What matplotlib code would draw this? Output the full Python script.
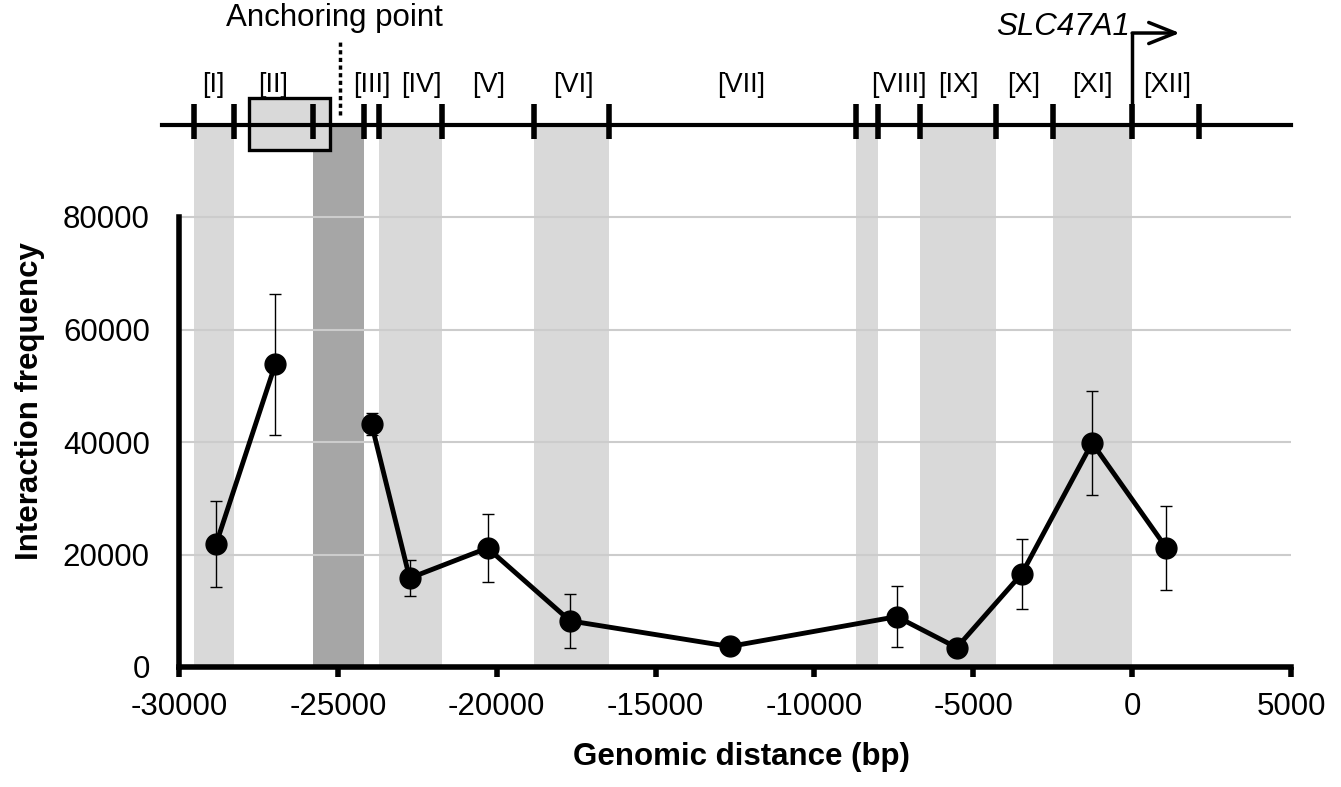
import matplotlib.pyplot as plt
from matplotlib.patches import Rectangle

plt.rcParams['font.family'] = ['Liberation Sans', 'DejaVu Sans']
plt.rcParams['axes.unicode_minus'] = False

# fragments and 3C interaction frequency
fragments = ['[I]', '[II]', '[III]', '[IV]', '[V]', '[VI]', '[VII]',
             '[VIII]', '[IX]', '[X]', '[XI]', '[XII]']
fragment_label_x = [-28930, -27040, -23940, -22370, -20250, -17600, -12300,
                    -7350, -5460, -3410, -1260, 1100]
distance = [-28830, -26970, -23940, -22740, -20290, -17690, -12670,
            -7410, -5520, -3470, -1260, 1080]
frequency = [21900, 53800, 43200, 15800, 21150, 8200, 3650,
             8950, 3450, 16600, 39850, 21150]
error = [7700, 12500, 1900, 3200, 6000, 4850, 800,
         5400, 800, 6200, 9200, 7500]
# the line is broken across the anchor fragment
upstream = 2

# restriction sites on the map and shaded fragments
sites = [-29520, -28270, -25770, -24170, -23700, -21730, -18840, -16460,
         -8680, -8010, -6680, -4300, -2500, 0, 2100]
light_bands = [(-29520, -28270), (-23700, -21730), (-18840, -16460),
               (-8680, -8010), (-6680, -4300), (-2500, 0)]
dark_band = (-25770, -24170)
anchor_box = (-27790, -25240)
anchor_x = -24920
tss = 0

fig = plt.figure(figsize=(13.41, 7.87), dpi=100)
ax = fig.add_axes([179 / 1341, 120 / 787, 1112 / 1341, 542 / 787])
ax.set_xlim(-30000, 5000)
ax.set_ylim(0, 80000 * 542 / 450)

for a, b in light_bands:
    ax.axvspan(a, b, color='#d9d9d9', lw=0, zorder=0)
ax.axvspan(*dark_band, color='#a6a6a6', lw=0, zorder=0)

ax.set_yticks(range(0, 80001, 20000))
ax.set_xticks(range(-30000, 5001, 5000))
ax.yaxis.grid(True, color='#cccccc', lw=1.5)
ax.tick_params(axis='y', length=0, labelsize=22.5, pad=21)
ax.tick_params(axis='x', direction='out', length=7, width=4, labelsize=22.5, pad=11)

for s in ['top', 'right']:
    ax.spines[s].set_visible(False)
ax.spines['left'].set_bounds(0, 80000)
ax.spines['left'].set_linewidth(4)
ax.spines['bottom'].set_linewidth(4)

ax.errorbar(distance, frequency, yerr=error, ls='none', marker='o', ms=15,
            color='black', ecolor='black', elinewidth=1,
            capsize=4.5, capthick=1, zorder=3)
ax.plot(distance[:upstream], frequency[:upstream], color='black', lw=3.5, zorder=3)
ax.plot(distance[upstream:], frequency[upstream:], color='black', lw=3.5, zorder=3)

# restriction map on top
trans = ax.get_xaxis_transform()
ax.plot([-30550, 5000], [1, 1], transform=trans, color='black', lw=3,
        clip_on=False, zorder=5)
ax.vlines(sites, 0.9736, 1.0382, transform=trans, color='black', lw=4,
          clip_on=False, zorder=6)
ax.add_patch(Rectangle((anchor_box[0], 0.9539), anchor_box[1] - anchor_box[0], 0.0965,
                       transform=trans, facecolor='#d9d9d9', edgecolor='black',
                       lw=2.4, clip_on=False, zorder=4))
for x, t in zip(fragment_label_x, fragments):
    ax.text(x, 1.0738, t, transform=trans, ha='center', va='center',
            fontsize=19.5)

ax.plot([anchor_x, anchor_x], [1.0185, 1.1587], transform=trans, color='black',
        lw=2.5, ls=(0, (1.2, 1)), clip_on=False)
ax.text(-25110, 1.1974, 'Anchoring point', transform=trans, ha='center',
        va='center', fontsize=22.5)

ax.plot([tss, tss], [1, 1.1697], transform=trans, color='black', lw=2.5,
        clip_on=False, solid_capstyle='butt')
ax.annotate('', xy=(1500, 1.1697), xytext=(tss, 1.1697), xycoords=trans,
            textcoords=trans, annotation_clip=False,
            arrowprops=dict(arrowstyle='->,head_length=0.5,head_width=0.2',
                            lw=2.5, mutation_scale=38, shrinkA=0, shrinkB=0,
                            color='black'))
ax.text(-2180, 1.1800, 'SLC47A1', transform=trans, ha='center', va='center',
        fontsize=22.5, style='italic')

fig.text(741 / 1341, 1 - 757 / 787, 'Genomic distance (bp)', ha='center',
         va='center', fontsize=22.5, fontweight='bold')
fig.text(30 / 1341, 1 - 401 / 787, 'Interaction frequency', ha='center',
         va='center', rotation=90, fontsize=22.5, fontweight='bold')

fig.savefig('out.png', dpi=100)
